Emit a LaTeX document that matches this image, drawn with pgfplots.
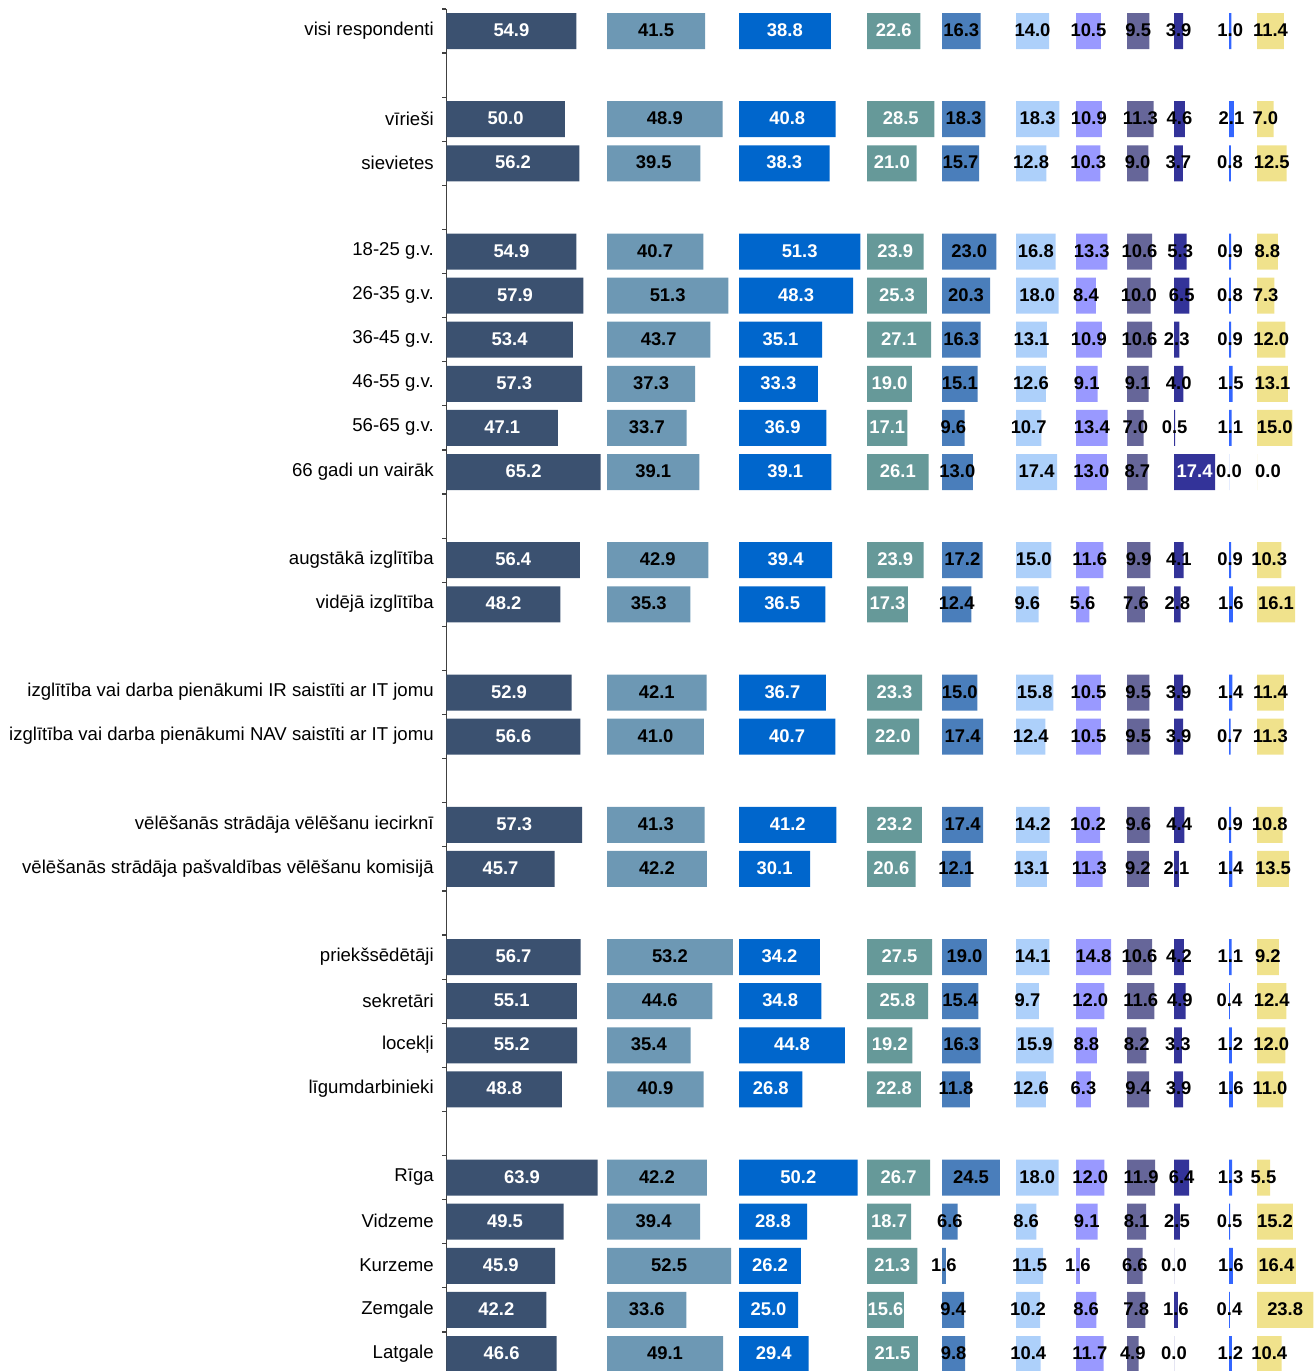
\documentclass[border=0pt]{standalone}
\usepackage{fontspec}
\setmainfont{Liberation Sans}
\usepackage{pgfplots}
\usepackage{pgfplotstable}
\pgfplotsset{compat=1.18}

\definecolor{c1}{RGB}{59,81,112}
\definecolor{c2}{RGB}{109,152,180}
\definecolor{c3}{RGB}{0,102,204}
\definecolor{c4}{RGB}{102,153,153}
\definecolor{c5}{RGB}{74,126,187}
\definecolor{c6}{RGB}{173,208,250}
\definecolor{c7}{RGB}{153,153,255}
\definecolor{c8}{RGB}{102,102,153}
\definecolor{c9}{RGB}{51,51,153}
\definecolor{c10}{RGB}{51,102,255}
\definecolor{c11}{RGB}{240,226,140}

% pos = row position (negative so the first row is on top)
\pgfplotstableread{
pos a b c d e f g h i j k
0 54.9 41.5 38.8 22.6 16.3 14.0 10.5 9.5 3.9 1.0 11.4
-2 50.0 48.9 40.8 28.5 18.3 18.3 10.9 11.3 4.6 2.1 7.0
-3 56.2 39.5 38.3 21.0 15.7 12.8 10.3 9.0 3.7 0.8 12.5
-5 54.9 40.7 51.3 23.9 23.0 16.8 13.3 10.6 5.3 0.9 8.8
-6 57.9 51.3 48.3 25.3 20.3 18.0 8.4 10.0 6.5 0.8 7.3
-7 53.4 43.7 35.1 27.1 16.3 13.1 10.9 10.6 2.3 0.9 12.0
-8 57.3 37.3 33.3 19.0 15.1 12.6 9.1 9.1 4.0 1.5 13.1
-9 47.1 33.7 36.9 17.1 9.6 10.7 13.4 7.0 0.5 1.1 15.0
-10 65.2 39.1 39.1 26.1 13.0 17.4 13.0 8.7 17.4 0.0 0.0
-12 56.4 42.9 39.4 23.9 17.2 15.0 11.6 9.9 4.1 0.9 10.3
-13 48.2 35.3 36.5 17.3 12.4 9.6 5.6 7.6 2.8 1.6 16.1
-15 52.9 42.1 36.7 23.3 15.0 15.8 10.5 9.5 3.9 1.4 11.4
-16 56.6 41.0 40.7 22.0 17.4 12.4 10.5 9.5 3.9 0.7 11.3
-18 57.3 41.3 41.2 23.2 17.4 14.2 10.2 9.6 4.4 0.9 10.8
-19 45.7 42.2 30.1 20.6 12.1 13.1 11.3 9.2 2.1 1.4 13.5
-21 56.7 53.2 34.2 27.5 19.0 14.1 14.8 10.6 4.2 1.1 9.2
-22 55.1 44.6 34.8 25.8 15.4 9.7 12.0 11.6 4.9 0.4 12.4
-23 55.2 35.4 44.8 19.2 16.3 15.9 8.8 8.2 3.3 1.2 12.0
-24 48.8 40.9 26.8 22.8 11.8 12.6 6.3 9.4 3.9 1.6 11.0
-26 63.9 42.2 50.2 26.7 24.5 18.0 12.0 11.9 6.4 1.3 5.5
-27 49.5 39.4 28.8 18.7 6.6 8.6 9.1 8.1 2.5 0.5 15.2
-28 45.9 52.5 26.2 21.3 1.6 11.5 1.6 6.6 0.0 1.6 16.4
-29 42.2 33.6 25.0 15.6 9.4 10.2 8.6 7.8 1.6 0.4 23.8
-30 46.6 49.1 29.4 21.5 9.8 10.4 11.7 4.9 0.0 1.2 10.4
}\data

\pgfplotsset{
  colax/.style={
    scale only axis, width=70.95pt, height=681pt,
    xmin=0, xmax=60, ymin=-30.385, ymax=0.5,
    clip=false, anchor=south west,
  },
  lbl/.style={draw=none, mark=none, point meta=explicit,
    nodes near coords={\pgfmathprintnumber[fixed,fixed zerofill,precision=1,assume math mode=true]{\pgfplotspointmeta}},
    every node near coord/.append style={anchor=center, text=#1,
      font=\bfseries\fontsize{9.2}{11}\selectfont, inner sep=0pt, yshift=0.4pt}},
  barp/.style={xbar, bar width=18pt, fill=#1, draw=none},
}

\newcommand\col[4]{%
\begin{axis}[colax, hide axis, at={(#1,0pt)}]
\addplot[barp=#3] table[x=#2, y=pos]{\data};
\addplot[lbl=#4] table[x expr=\thisrow{#2}/2, y=pos, meta=#2]{\data};
\end{axis}}

\begin{document}
\begin{tikzpicture}
\useasboundingbox (0,0) rectangle (656.5pt,685.5pt);

\begin{axis}[colax, at={(223.25pt,0pt)},
  axis y line*=left, hide x axis,
  axis line style={black!75, line width=0.7pt},
  ytick={-30,-29,-28,-27,-26,-24,-23,-22,-21,-19,-18,-16,-15,-13,-12,-10,-9,-8,-7,-6,-5,-3,-2,0},
  yticklabels={Latgale, Zemgale, Kurzeme, Vidzeme, Rīga, līgumdarbinieki, locekļi, sekretāri, priekšsēdētāji, vēlēšanās strādāja pašvaldības vēlēšanu komisijā, vēlēšanās strādāja vēlēšanu iecirknī, izglītība vai darba pienākumi NAV saistīti ar IT jomu, izglītība vai darba pienākumi IR saistīti ar IT jomu, vidējā izglītība, augstākā izglītība, 66 gadi un vairāk, 56-65 g.v., 46-55 g.v., 36-45 g.v., 26-35 g.v., 18-25 g.v., sievietes, vīrieši, visi respondenti},
  minor ytick={-30.5,-29.5,...,0.5},
  major tick length=0pt, minor tick length=2pt, tick align=outside,
  minor tick style={black!75, line width=0.6pt},
  yticklabel style={font=\fontsize{9.3}{11}\selectfont, inner sep=0pt, xshift=-6.2pt, yshift=0.3pt},
]
\addplot[barp=c1] table[x=a, y=pos]{\data};
\addplot[lbl=white] table[x expr=\thisrow{a}/2, y=pos, meta=a]{\data};
\end{axis}

\col{303.5pt}{b}{c2}{black}
\col{369.5pt}{c}{c3}{white}
\col{433.5pt}{d}{c4}{white}
\col{471pt}{e}{c5}{black}
\col{508pt}{f}{c6}{black}
\col{538pt}{g}{c7}{black}
\col{563.5pt}{h}{c8}{black}

\begin{axis}[colax, hide axis, at={(587pt,0pt)}]
\addplot[barp=c9] table[x=i, y=pos]{\data};
\addplot[lbl=black, skip coords between index={8}{9}] table[x expr=\thisrow{i}/2, y=pos, meta=i]{\data};
\addplot[lbl=white] coordinates {(8.7,-10) [17.4]};
\end{axis}

\col{614.5pt}{j}{c10}{black}

\begin{axis}[colax, hide axis, at={(628.5pt,0pt)}]
\addplot[barp=c11] table[x=k, y=pos]{\data};
\addplot[lbl=black, skip coords between index={8}{9}] table[x expr=\thisrow{k}/2, y=pos, meta=k]{\data};
\addplot[lbl=black] coordinates {(4.65,-10) [0.0]};
\end{axis}
\end{tikzpicture}
\end{document}
